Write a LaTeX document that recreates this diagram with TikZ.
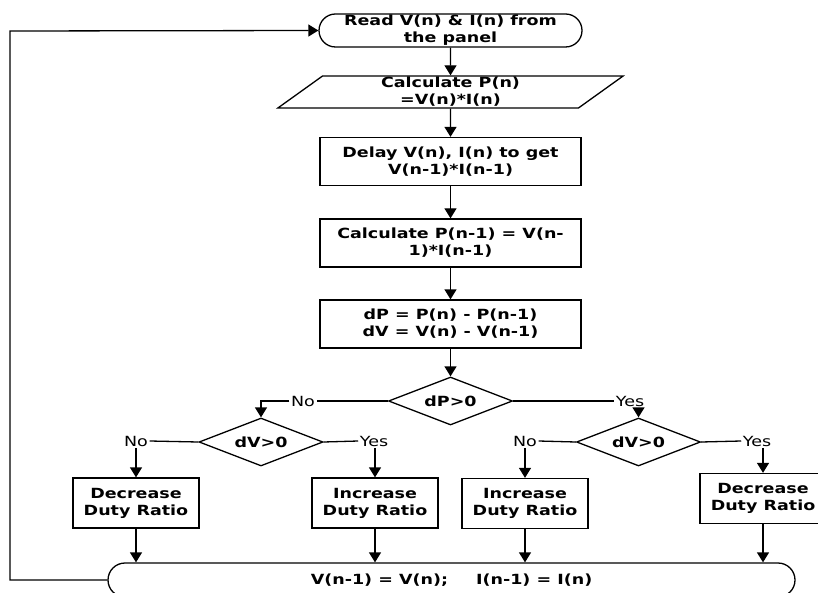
\documentclass[tikz,border=0pt]{standalone}
\usepackage{fontspec}
\setmainfont{DejaVu Sans}[FakeStretch=1.25]
\usetikzlibrary{shapes.geometric,arrows.meta}
\begin{document}
\begin{tikzpicture}[x=1pt,y=-1pt,line width=1.3pt,
  every node/.style={font=\fontsize{14}{17}\selectfont\bfseries,align=center,inner sep=1pt},
  block/.style={draw,minimum width=261pt,minimum height=48pt},
  smallblock/.style={draw,minimum width=126pt,minimum height=50pt},
  terminal/.style={draw,rounded corners=16.5pt,minimum height=33pt},
  decision/.style={draw,diamond,aspect=2.6,minimum width=124pt,minimum height=48pt,inner sep=0pt},
  answer/.style={font=\fontsize{14}{17}\selectfont,fill=white,inner sep=1pt},
  arr/.style={-{Triangle[length=10pt,width=12pt]}}]
\useasboundingbox (0,0) rectangle (818,593);
\node[terminal,minimum width=263pt] (read) at (450.5,30.5) {Read V(n) \& I(n) from\\the panel};
\node[draw,trapezium,trapezium left angle=52,trapezium right angle=128,trapezium stretches=true,
  minimum width=346pt,minimum height=32pt] (pn) at (450.5,92) {Calculate P(n)\\=V(n)*I(n)};
\node[block] (delay) at (450.5,161.5) {Delay V(n), I(n) to get\\V(n-1)*I(n-1)};
\node[block] (pold) at (450.5,243) {Calculate P(n-1) = V(n-\\1)*I(n-1)};
\node[block] (diff) at (450.5,324) {dP = P(n) - P(n-1)\\dV = V(n) - V(n-1)};
\node[decision] (dp) at (450.5,401) {dP>0};
\node[decision] (dvl) at (261,442) {dV>0};
\node[decision] (dvr) at (638.5,442) {dV>0};
\node[answer] (no1) at (303,401) {No};
\node[answer] (yes1) at (630,401) {Yes};
\node[answer] (no2) at (136,441) {No};
\node[answer] (yes2) at (374,441) {Yes};
\node[answer] (no3) at (525,441) {No};
\node[answer] (yes3) at (757,441) {Yes};
\node[smallblock] (decl) at (136,503) {Decrease\\Duty Ratio};
\node[smallblock] (incl) at (375,503) {Increase\\Duty Ratio};
\node[smallblock] (incr) at (525,503.5) {Increase\\Duty Ratio};
\node[smallblock] (decr) at (763,498.5) {Decrease\\Duty Ratio};
\node[terminal,minimum width=687pt,minimum height=34pt,rounded corners=17pt] (upd) at (451.5,580)
  {V(n-1) = V(n);\quad\quad I(n-1) = I(n)};
\coordinate (loop) at (10,31);
\foreach \a/\b in {read/pn,pn/delay,delay/pold,pold/diff,diff/dp}
  \draw[arr] (\a.south) -- (\b.north);
\draw (dp.west) -- (no1.east);
\draw[arr] (no1.west) -| (dvl.north);
\draw (dp.east) -- (yes1.west);
\draw[arr] (yes1.south -| dvr.north) -- (dvr.north);
\draw (dvl.west) -- (no2.east);
\draw (dvl.east) -- (yes2.west);
\draw (dvr.west) -- (no3.east);
\draw (dvr.east) -- (yes3.west);
\draw[arr] (no2.south -| decl.north) -- (decl.north);
\draw[arr] (yes2.south -| incl.north) -- (incl.north);
\draw[arr] (no3.south -| incr.north) -- (incr.north);
\draw[arr] (yes3.south -| decr.north) -- (decr.north);
\foreach \b in {decl,incl,incr,decr}
  \draw[arr] (\b.south) -- (\b.south |- upd.north);
\draw[arr] (upd.west) -| (loop) -- (read.west);
\end{tikzpicture}
\end{document}
